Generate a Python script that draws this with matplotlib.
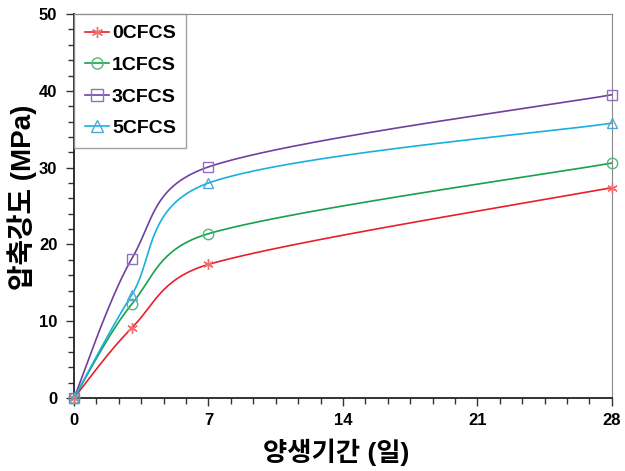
import numpy as np
import matplotlib
matplotlib.use("Agg")
import matplotlib.pyplot as plt
from matplotlib.ticker import MultipleLocator

days = [0, 3, 7, 28]
series_names = ["0CFCS", "1CFCS", "3CFCS", "5CFCS"]
s0 = [0, 9.1, 17.4, 27.4]
s1 = [0, 12.2, 21.4, 30.6]
s3 = [0, 18.1, 30.1, 39.5]
s5 = [0, 13.4, 28.0, 35.8]
values = [s0, s1, s3, s5]
line_colors = ["#e8202a", "#18a04c", "#7040a0", "#18b0e0"]
marker_colors = ["#f07070", "#50b878", "#9070c0", "#50a8d8"]
markers = [(6, 2, 0), "o", "s", "^"]

plt.rcParams['font.family'] = ['Liberation Sans', 'Noto Sans CJK KR', 'DejaVu Sans']

XS, YS = 538 / 28.0, 384 / 50.0  # pixel scale, for Excel-like smoothing


def smooth(x, y, n=80):
    P = np.column_stack([np.asarray(x, float) * XS, np.asarray(y, float) * YS])
    ext = np.vstack([P[0], P, P[-1]])
    out = []
    for i in range(len(P) - 1):
        p0, p1, p2, p3 = ext[i], ext[i + 1], ext[i + 2], ext[i + 3]
        d12 = np.linalg.norm(p2 - p1)
        d02 = np.linalg.norm(p2 - p0)
        d13 = np.linalg.norm(p3 - p1)
        f0 = 1 / 6.0
        f1 = 1 / 6.0
        if d02 / 6.0 > d12 / 2.0 and d02 > 0:
            f0 = d12 / (2.0 * d02)
        if d13 / 6.0 > d12 / 2.0 and d13 > 0:
            f1 = d12 / (2.0 * d13)
        c1 = p1 + (p2 - p0) * f0
        c2 = p2 - (p3 - p1) * f1
        t = np.linspace(0, 1, n)[:, None]
        seg = ((1 - t) ** 3) * p1 + 3 * ((1 - t) ** 2) * t * c1 + 3 * (1 - t) * t ** 2 * c2 + t ** 3 * p2
        out.append(seg if i == 0 else seg[1:])
    seg = np.vstack(out)
    return seg[:, 0] / XS, seg[:, 1] / YS


fig = plt.figure(figsize=(6.25, 4.71), dpi=100)
ax = fig.add_axes([0.1184, 0.155, 0.8606, 0.815])

for name, v, lc, mc, mk in zip(series_names, values, line_colors, marker_colors, markers):
    sx, sy = smooth(days, v)
    ax.plot(sx, sy, color=lc, lw=1.2, zorder=2)
    ax.plot(days, v, linestyle='none', marker=mk, markersize=7.5, markerfacecolor='none',
            markeredgecolor=mc, markeredgewidth=1.0, zorder=3, clip_on=False)
    ax.plot([], [], color=lc, lw=1.2, marker=mk, markersize=8, markerfacecolor='none',
            markeredgecolor=mc, markeredgewidth=1.0, label=name)

ax.set_xlim(0, 28)
ax.set_ylim(0, 50)
ax.xaxis.set_major_locator(MultipleLocator(7))
ax.xaxis.set_minor_locator(MultipleLocator(7 / 6))
ax.yaxis.set_major_locator(MultipleLocator(10))
ax.yaxis.set_minor_locator(MultipleLocator(2))
ax.tick_params(which='both', direction='out', width=1.0, color='#333333')
ax.tick_params(which='major', length=5.5, labelsize=12)
ax.tick_params(which='minor', length=4)
ax.tick_params(axis='x', which='major', pad=5)
ax.tick_params(axis='y', which='major', pad=6.5)
for lbl in ax.get_xticklabels() + ax.get_yticklabels():
    lbl.set_fontweight('bold')
ax.spines['left'].set_color('#222222')
ax.spines['bottom'].set_color('#222222')
ax.spines['left'].set_linewidth(1.3)
ax.spines['bottom'].set_linewidth(1.3)
ax.spines['top'].set_color('#888888')
ax.spines['right'].set_color('#888888')

fig.text(336 / 625, 1 - 452 / 471, "양생기간 (일)", fontsize=19, fontweight='bold',
         ha='center', va='center')
fig.text(22 / 625, 1 - 197 / 471, "압축강도 (MPa)", fontsize=20, fontweight='bold',
         ha='center', va='center', rotation=90)

leg = ax.legend(loc='upper left', bbox_to_anchor=(0.0, 1.0), frameon=True, fancybox=False,
                edgecolor='#888888', prop={'weight': 'bold', 'size': 14},
                handlelength=1.25, handletextpad=0.15, labelspacing=0.72, borderpad=0.55,
                borderaxespad=0.0)
leg.get_frame().set_linewidth(1.0)

fig.savefig("out.png", dpi=100)
